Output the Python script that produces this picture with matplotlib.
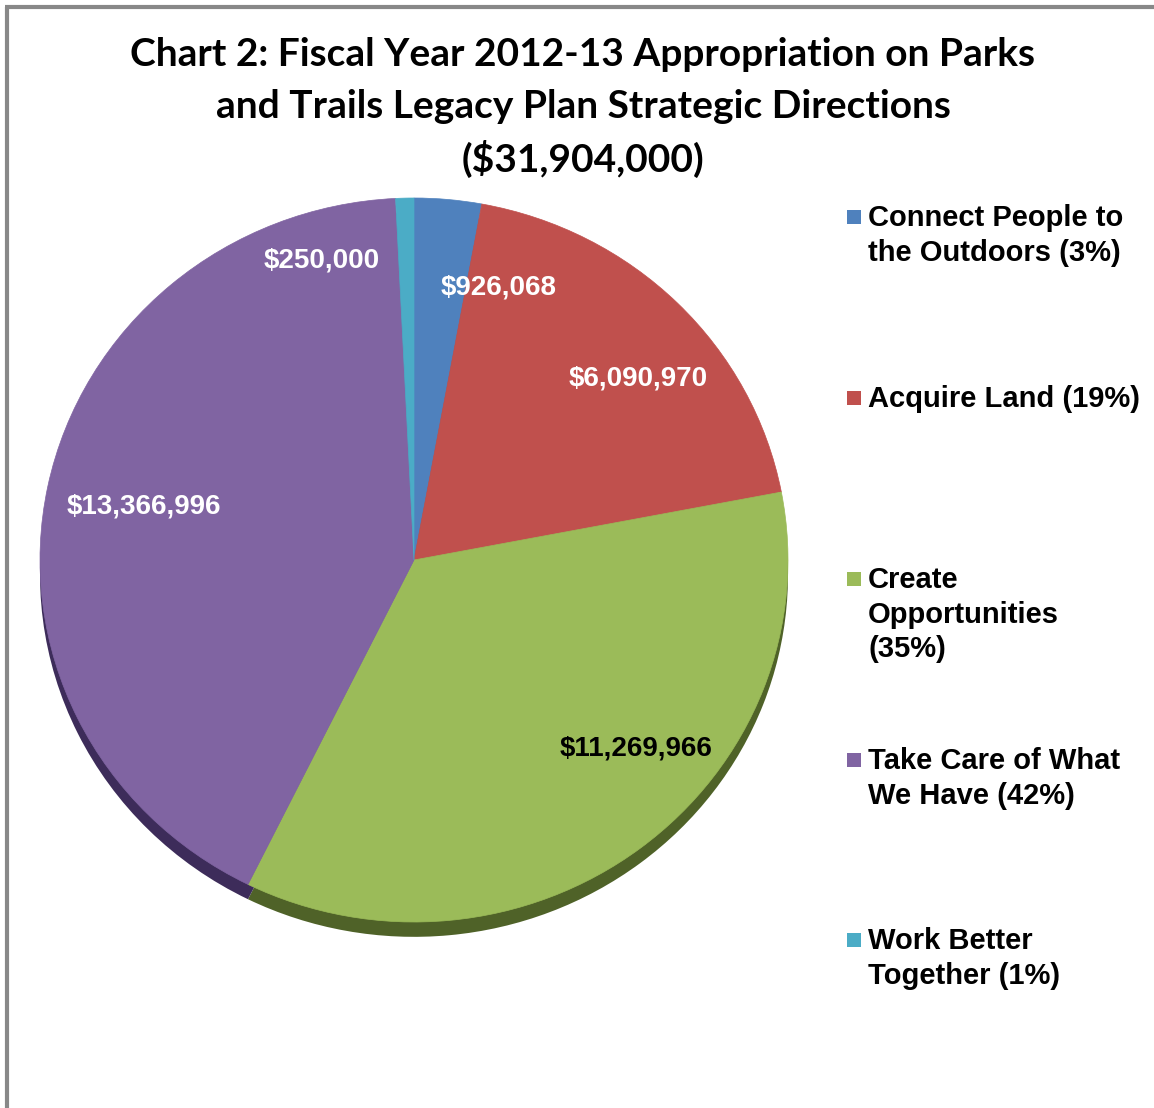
import numpy as np
import matplotlib
matplotlib.use('Agg')
import matplotlib.pyplot as plt
from matplotlib.lines import Line2D
from matplotlib.patches import Rectangle

# data
categories = ['Connect People to the Outdoors', 'Acquire Land', 'Create Opportunities',
              'Take Care of What We Have', 'Work Better Together']
values = [926068, 6090970, 11269966, 13366996, 250000]
legend_labels = ['Connect People to\nthe Outdoors (3%)', 'Acquire Land (19%)',
                 'Create\nOpportunities\n(35%)', 'Take Care of What\nWe Have (42%)',
                 'Work Better\nTogether (1%)']
title_lines = ['Chart 2: Fiscal Year 2012-13 Appropriation on Parks',
               'and Trails Legacy Plan Strategic Directions',
               '($31,904,000)']

colors = ['#4F81BD', '#C0504D', '#9BBB59', '#8064A2', '#4BACC6']
side_colors = ['#2C4D75', '#772C2A', '#4F6228', '#3D2C5A', '#2C6D7D']
label_colors = ['white', 'white', 'black', 'white', 'white']
# label positions in pie units (Excel best-fit placement)
label_pos = [(0.225, 0.752), (0.599, 0.500), (0.594, -0.522), (-0.722, 0.148), (-0.246, 0.826)]

W, H = 1154, 1108
fig = plt.figure(figsize=(W / 100, H / 100), dpi=100)


def fx(x):
    return x / W


def fy(y):
    return 1 - y / H


# pie axes: unit radius -> 374 px wide, 362 px tall, center (414, 560)
rx, ry = 374, 362
cx, cy = 414, 560
ylo, yhi = -1.1, 1.0
ax = fig.add_axes([fx(cx - rx), fy(cy - ylo * ry), 2 * rx / W, (yhi - ylo) * ry / H])

# side (depth) of the tilted pie
ax.pie(values, colors=side_colors, startangle=90, counterclock=False,
       center=(0, -0.041), radius=1, wedgeprops=dict(linewidth=0))
ax.pie(values, colors=colors, startangle=90, counterclock=False,
       center=(0, 0), radius=1, wedgeprops=dict(linewidth=0.5))
for w in ax.patches[len(values):]:
    w.set_edgecolor(w.get_facecolor())
ax.set_aspect('auto')
ax.set_xlim(-1, 1)
ax.set_ylim(ylo, yhi)
ax.axis('off')

for v, (lx, ly), c in zip(values, label_pos, label_colors):
    ax.text(lx, ly, '${:,}'.format(v), ha='center', va='center', color=c,
            fontsize=20, fontweight='bold', family=['Liberation Sans', 'DejaVu Sans'])

# title
for i, line in enumerate(title_lines):
    fig.text(fx(583), fy(55 + 52 * i), line, ha='center', va='center',
             fontsize=28, fontweight='bold', family=['Lato', 'DejaVu Sans'])

# legend
entry_y = [217, 398, 579, 760, 940]
for lab, c, y in zip(legend_labels, colors, entry_y):
    fig.patches.append(Rectangle((fx(847), fy(y + 7)), 14 / W, 14 / H,
                                 transform=fig.transFigure, facecolor=c, edgecolor='none'))
    fig.text(fx(868), fy(y - 13), lab, ha='left', va='top', fontsize=21,
             fontweight='bold', linespacing=1.3, family=['Liberation Sans', 'DejaVu Sans'])

# frame lines (left and top)
fig.add_artist(Line2D([fx(6.5), fx(6.5)], [0, fy(6.5)], color='#888888', lw=3,
                      transform=fig.transFigure, solid_capstyle='butt'))
fig.add_artist(Line2D([fx(5), 1], [fy(6.5), fy(6.5)], color='#888888', lw=3,
                      transform=fig.transFigure, solid_capstyle='butt'))

plt.savefig('out.png', dpi=100)
